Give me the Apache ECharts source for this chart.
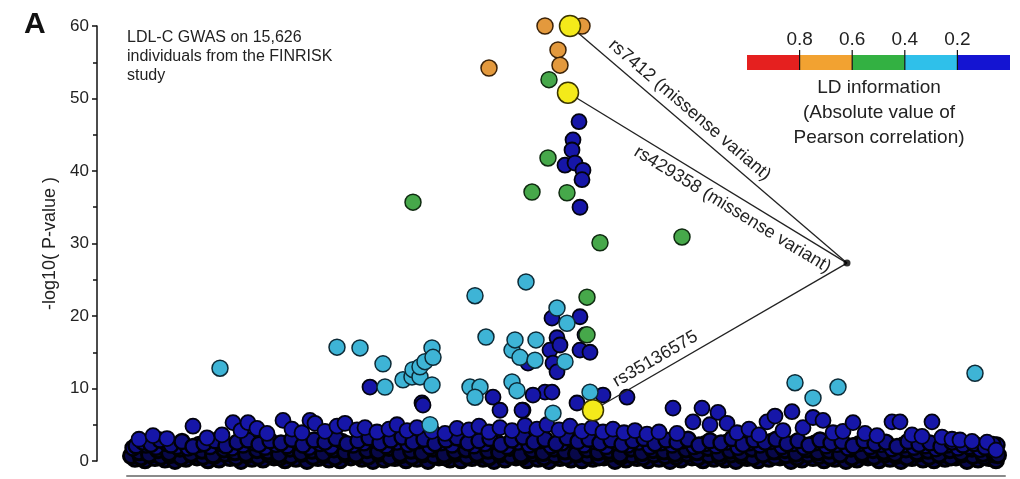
<!DOCTYPE html>
<html><head><meta charset="utf-8">
<script src="https://cdn.jsdelivr.net/npm/echarts/dist/echarts.min.js"></script>
<style>html,body{margin:0;padding:0;background:#fff}#c{width:1020px;height:479px}</style>
</head><body><div id="c"></div>
<script>
// ---------- DATA (position index along the region, -log10 P) ----------
// SNPs with LD < 0.2 (blue): dense base layer
const blueRowLow = [[8,0.3],[18,0.1],[28,0.4],[38,0.2],[48,0.0],[59,0.3],[70,0.5],[81,0.1],[92,0.2],[103,0.4],[114,0.0],[125,0.3],[136,0.2],[147,0.5],[158,0.1],[169,0.3],[180,0.0],[191,0.4],[202,0.2],[213,0.1],[224,0.5],[235,0.3],[246,0.0],[257,0.2],[268,0.4],[279,0.1],[290,0.3],[301,0.0],[312,0.5],[323,0.2],[334,0.1],[345,0.4],[356,0.3],[367,0.0],[378,0.2],[389,0.5],[400,0.1],[411,0.3],[422,0.0],[433,0.4],[444,0.2],[455,0.1],[466,0.3],[477,0.5],[488,0.0],[499,0.2],[510,0.4],[521,0.1],[532,0.3],[543,0.0],[554,0.2],[565,0.5],[576,0.1],[587,0.3],[598,0.2],[609,0.0],[620,0.4],[631,0.1],[642,0.3],[653,0.5],[664,0.0],[675,0.2],[686,0.4],[697,0.1],[708,0.3],[719,0.0],[730,0.2],[741,0.5],[752,0.1],[763,0.3],[774,0.0],[785,0.4],[796,0.2],[807,0.1],[818,0.3],[829,0.5],[840,0.0],[851,0.2],[862,0.4],[869,0.1]];
const blueRowLow2 = [[4,0.7],[14,0.5],[24,0.9],[34,0.6],[43,0.8],[54,0.5],[65,0.9],[76,0.6],[87,0.7],[98,1.0],[109,0.5],[120,0.8],[131,0.6],[142,0.9],[153,0.5],[164,0.7],[175,1.0],[186,0.6],[197,0.8],[208,0.5],[219,0.9],[230,0.7],[241,0.6],[252,1.0],[263,0.5],[274,0.8],[285,0.6],[296,0.9],[307,0.7],[318,0.5],[329,1.0],[340,0.6],[351,0.8],[362,0.5],[373,0.9],[384,0.7],[395,0.6],[406,1.0],[417,0.5],[428,0.8],[439,0.6],[450,0.9],[461,0.7],[472,0.5],[483,1.0],[494,0.6],[505,0.8],[516,0.5],[527,0.9],[538,0.7],[549,0.6],[560,1.0],[571,0.5],[582,0.8],[593,0.6],[604,0.9],[615,0.7],[626,0.5],[637,1.0],[648,0.6],[659,0.8],[670,0.5],[681,0.9],[692,0.7],[703,0.6],[714,1.0],[725,0.5],[736,0.8],[747,0.6],[758,0.9],[769,0.7],[780,0.5],[791,1.0],[802,0.6],[813,0.8],[824,0.5],[835,0.9],[846,0.7],[857,0.6],[867,0.9]];
const blueRowMid = [[12,1.2],[22,0.9],[31,1.5],[42,1.1],[53,1.7],[64,1.0],[75,1.4],[86,0.8],[97,1.6],[108,1.2],[119,1.0],[130,1.5],[141,1.3],[152,0.9],[163,1.7],[174,1.1],[185,1.4],[196,1.0],[207,1.6],[218,1.2],[229,0.9],[240,1.5],[251,1.3],[262,1.8],[273,1.0],[284,1.4],[295,1.1],[306,1.7],[317,0.9],[328,1.3],[339,1.6],[350,1.0],[361,1.4],[372,1.2],[383,1.8],[394,0.9],[405,1.5],[416,1.1],[427,1.7],[438,1.3],[449,1.0],[460,1.6],[471,1.2],[482,1.4],[493,0.9],[504,1.7],[515,1.1],[526,1.5],[537,1.3],[548,1.0],[559,1.6],[570,1.2],[581,1.8],[592,1.0],[603,1.4],[614,1.1],[625,1.7],[636,0.9],[647,1.3],[658,1.5],[669,1.0],[680,1.6],[691,1.2],[702,1.4],[713,0.9],[724,1.7],[735,1.1],[746,1.5],[757,1.3],[768,1.0],[779,1.6],[790,1.2],[801,1.4],[812,0.9],[823,1.5],[834,1.1],[845,1.7],[856,1.0],[866,1.3],[871,0.8]];
const blueRowMid2 = [[6,1.8],[19,2.2],[29,1.9],[40,2.4],[50,2.0],[61,1.8],[72,2.3],[83,2.0],[94,2.4],[105,1.8],[116,2.2],[127,2.5],[138,1.9],[149,2.3],[160,2.1],[171,2.6],[182,1.9],[193,2.4],[204,2.0],[215,2.7],[226,2.2],[237,2.5],[248,2.9],[259,2.1],[270,2.6],[281,2.3],[292,2.8],[303,2.0],[314,2.5],[325,2.2],[336,2.9],[347,2.1],[358,2.4],[369,2.7],[380,2.0],[391,2.6],[402,2.2],[413,2.8],[424,2.1],[435,2.5],[446,2.9],[457,2.2],[468,2.7],[479,2.0],[490,2.5],[501,2.2],[512,2.6],[523,2.0],[534,2.5],[545,2.2],[556,2.8],[567,2.0],[578,2.4],[589,2.1],[600,2.6],[611,1.9],[622,2.5],[633,2.2],[644,2.7],[655,2.0],[666,2.4],[677,1.9],[688,2.5],[699,2.1],[710,2.3],[721,1.8],[732,2.4],[743,2.0],[754,2.3],[765,1.7],[776,2.2],[787,1.9],[798,2.1],[809,1.7],[820,2.2],[831,1.8],[842,2.0],[853,1.6],[863,1.9],[870,2.2]];
const blueRowHigh = [[9,2.1],[16,2.6],[24,2.3],[33,2.9],[44,2.2],[55,2.7],[66,2.0],[77,2.4],[88,2.8],[99,2.1],[110,2.6],[121,2.9],[132,2.3],[143,2.8],[154,2.5],[165,3.0],[176,2.2],[187,2.9],[198,2.6],[209,3.1],[220,2.4],[231,2.8],[242,3.2],[253,2.5],[264,2.9],[275,3.3],[286,2.6],[297,3.0],[308,2.4],[319,2.9],[330,3.2],[341,2.5],[352,2.8],[363,3.1],[374,2.3],[385,2.9],[396,3.3],[407,2.6],[418,3.0],[429,2.4],[440,3.2],[451,2.7],[462,3.0],[473,2.5],[484,2.9],[495,2.3],[506,2.8],[517,3.1],[528,2.4],[539,2.9],[550,2.6],[561,3.0],[572,2.2],[583,2.8],[594,2.5],[605,3.1],[616,2.3],[627,2.9],[638,2.6],[649,3.0],[660,2.4],[671,2.8],[682,2.2],[693,2.9],[704,2.5],[715,2.7],[726,2.1],[737,2.8],[748,2.4],[759,2.6],[770,2.0],[781,2.7],[792,2.3],[803,2.5],[814,2.0],[825,2.6],[836,2.2],[847,2.4],[858,1.9],[866,2.3]];
const blueRowTop = [[12,3.0],[26,3.5],[40,3.1],[66,4.8],[80,3.2],[95,3.6],[106,5.3],[114,4.2],[121,5.3],[130,4.5],[140,3.8],[156,5.6],[165,4.4],[175,3.9],[183,5.6],[188,5.2],[198,4.1],[210,4.8],[218,5.2],[230,4.3],[238,4.6],[250,4.0],[262,4.4],[270,5.0],[280,4.2],[290,4.6],[305,4.1],[318,3.8],[330,4.5],[342,4.3],[352,4.8],[362,4.0],[373,4.6],[385,4.2],[398,4.9],[410,4.4],[420,5.0],[432,4.3],[443,4.8],[455,4.1],[465,4.6],[476,4.0],[486,4.4],[497,3.9],[508,4.2],[520,3.7],[532,4.0],[546,7.3],[550,3.8],[566,5.4],[575,7.3],[583,5.0],[591,6.7],[600,5.2],[610,3.9],[622,4.4],[632,3.6],[640,5.4],[648,6.2],[656,4.2],[665,6.8],[676,4.6],[686,6.0],[696,5.6],[706,3.9],[716,4.1],[726,5.3],[738,3.8],[750,3.5],[765,5.4],[773,5.4],[785,3.6],[795,3.4],[805,5.4],[815,3.3],[825,3.0],[833,2.9],[845,2.7],[860,2.6],[869,1.5]];
const blueCluster = [[452,46.8],[446,44.3],[445,42.9],[438,40.8],[448,41.1],[456,40.1],[455,38.8],[453,35.0],[425,19.7],[453,19.9],[430,17.0],[423,15.3],[401,13.5],[426,13.5],[430,12.3],[453,15.3],[463,15.0],[418,9.5],[406,9.1],[425,9.5],[396,7.0],[450,8.0],[476,9.1],[500,8.8],[243,10.2],[295,8.0],[366,8.8],[373,7.0],[433,16.0],[458,17.4],[296,7.7],[395,7.0]];
// LD 0.2-0.4 (cyan)
const cyanPts = [[93,12.8],[210,15.7],[233,15.6],[256,13.4],[258,10.2],[276,11.2],[285,11.6],[286,12.6],[293,11.6],[293,13.0],[298,13.7],[305,15.6],[306,14.3],[305,10.5],[303,5.0],[348,22.8],[359,17.1],[343,10.2],[353,10.2],[348,8.8],[385,15.3],[388,16.7],[393,14.3],[399,24.7],[408,13.9],[409,16.7],[385,10.9],[390,9.7],[426,6.6],[430,21.1],[440,19.0],[438,13.7],[463,9.5],[668,10.8],[686,8.7],[711,10.2],[848,12.1]];
// LD 0.4-0.6 (green)
const greenPts = [[422,52.6],[421,41.8],[405,37.1],[440,37.0],[286,35.7],[473,30.1],[555,30.9],[460,22.6],[460,17.4]];
// LD 0.6-0.8 (orange)
const orangePts = [[418,60.0],[455,60.0],[431,56.7],[433,54.6],[362,54.2]];
// annotated lead variants (yellow)
const leadSnps = [[443,60.0],[441,50.8],[466,7.0]];
const leadLabels = ['rs7412 (missense variant)', 'rs429358 (missense variant)', 'rs35136575'];
const labelJunction = [720, 27.3];
// legend
const ldBreaks = ['0.8', '0.6', '0.4', '0.2'];
const ldColors = ['#e5201f', '#f2a231', '#33b142', '#2fc0ea', '#1414d2'];

// ---------- CHART ----------
const FONT = '"Liberation Sans", Arial, Helvetica, sans-serif';
const chart = echarts.init(document.getElementById('c'), null, {renderer: 'canvas'});

const labelPos = ['insideStartTop', 'insideEndBottom', 'insideStartTop'];
const labelDist = [[42, 5], [12, 5], [32, 4]];
const mlData = leadSnps.map((s, i) => [
  {coord: s, label: {show: true, formatter: leadLabels[i], position: labelPos[i], distance: labelDist[i]}},
  {coord: labelJunction}
]);

function dot(color, border, size, bw) {
  return {type: 'scatter', symbol: 'circle', symbolSize: size, clip: false,
    itemStyle: {color: color, borderColor: border, borderWidth: bw || 1.5, opacity: 1}};
}

const legendX0 = 747, legendW = 263, legendY = 55, legendH = 15;
const segW = legendW / ldColors.length;
const graphics = [
  {type: 'text', left: 24, top: 10, style: {text: 'A', font: 'bold 30px ' + FONT, fill: '#111'}},
  {type: 'text', x: 127, y: 28, style: {text: 'LDL-C GWAS on 15,626\nindividuals from the FINRISK\nstudy', font: '16px ' + FONT, fill: '#222', lineHeight: 19}}
];
ldColors.forEach((c, i) => {
  graphics.push({type: 'rect', shape: {x: legendX0 + i * segW, y: legendY, width: segW, height: legendH}, style: {fill: c}});
});
ldBreaks.forEach((t, i) => {
  const x = legendX0 + (i + 1) * segW;
  graphics.push({type: 'line', shape: {x1: x, y1: legendY - 5, x2: x, y2: legendY + legendH}, style: {stroke: '#111', lineWidth: 1.2}});
  graphics.push({type: 'text', x: x, y: 40, style: {text: t, font: '19px ' + FONT, fill: '#222', align: 'center', verticalAlign: 'middle'}});
});
graphics.push({type: 'text', x: 879, y: 75, style: {text: 'LD information\n(Absolute value of\nPearson correlation)', font: '19px ' + FONT, fill: '#222', align: 'center', verticalAlign: 'top', lineHeight: 25}});

chart.setOption({
  animation: false,
  backgroundColor: '#fff',
  grid: {left: 127, right: 15, top: 26, bottom: 18},
  xAxis: {type: 'value', min: 0, max: 878, offset: 15,
    axisLine: {show: true, onZero: false, lineStyle: {color: '#8a8a8a', width: 2}},
    axisTick: {show: false}, axisLabel: {show: false}, splitLine: {show: false}},
  yAxis: {type: 'value', min: 0, max: 60, interval: 10, offset: 30,
    axisLine: {show: true, onZero: false, lineStyle: {color: '#111', width: 1.5}},
    axisTick: {show: true, length: 5, lineStyle: {color: '#111', width: 1.5}},
    minorTick: {show: true, splitNumber: 2, length: 4, lineStyle: {color: '#111', width: 1.5}},
    splitLine: {show: false},
    axisLabel: {color: '#222', fontSize: 17, fontFamily: FONT, margin: 8},
    name: '-log10( P-value )', nameLocation: 'middle', nameGap: 31, nameRotate: 90,
    nameTextStyle: {fontSize: 18, color: '#222', fontFamily: FONT}},
  graphic: graphics,
  series: [
    {type: 'scatter', data: [], z: 1,
      markLine: {silent: true, symbol: ['none', 'none'], animation: false,
        lineStyle: {color: '#222', width: 1.3, type: 'solid'},
        label: {color: '#222', fontSize: 18, fontFamily: FONT},
        emphasis: {disabled: true},
        data: mlData}},
    Object.assign(dot('#08084a', '#000003', 15, 3), {z: 2, data: [].concat(blueRowLow, blueRowLow2, blueRowMid)}),
    Object.assign(dot('#0e0e7e', '#000005', 15, 2.4), {z: 2, data: [].concat(blueRowMid2, blueRowHigh)}),
    Object.assign(dot('#1616a8', '#03030e', 15, 1.8), {z: 2, data: [].concat(blueRowTop, blueCluster)}),
    Object.assign(dot('#3eb4d6', '#0d2a36', 16), {z: 3, data: cyanPts}),
    Object.assign(dot('#46a84a', '#0f2a10', 16), {z: 4, data: greenPts}),
    Object.assign(dot('#e3993d', '#3a2208', 16), {z: 5, data: orangePts}),
    Object.assign(dot('#f4ea1a', '#3a3400', 21), {z: 6, data: leadSnps}),
    {type: 'scatter', z: 7, symbolSize: 7, itemStyle: {color: '#000'}, data: [labelJunction]}
  ]
});
</script>
</body></html>
